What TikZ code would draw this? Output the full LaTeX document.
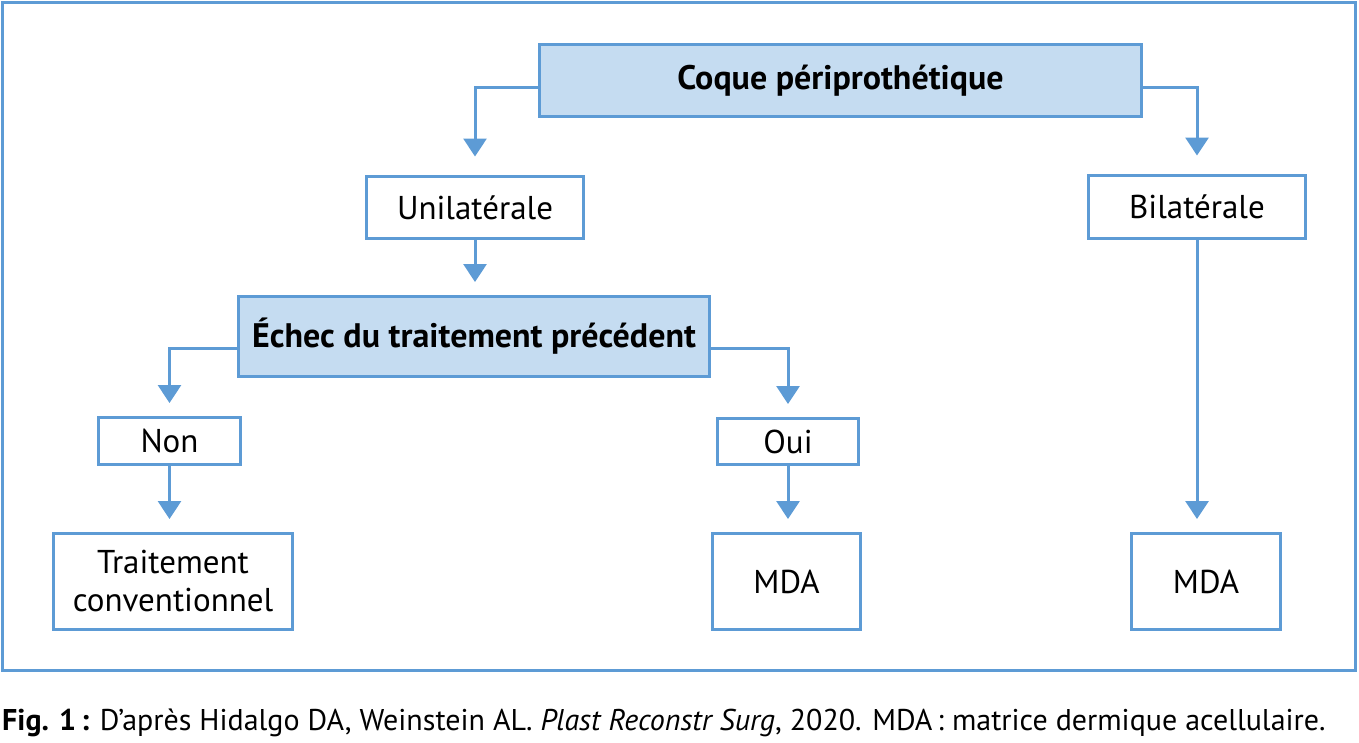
\documentclass[tikz,border=0pt]{standalone}
\usepackage{fontspec}
\setmainfont{PT Sans}
\usetikzlibrary{arrows.meta}
\definecolor{bordblue}{RGB}{93,155,213}
\definecolor{fillblue}{RGB}{197,220,241}
\begin{document}
\begin{tikzpicture}[x=1pt,y=-1pt,
  box/.style={draw=bordblue, line width=3pt, fill=white, inner sep=0pt, align=center,
    font=\fontsize{33}{38}\selectfont},
  keybox/.style={box, fill=fillblue, font=\fontsize{34}{38}\selectfont\bfseries},
  conn/.style={draw=bordblue, line width=3pt, -{Triangle[width=23pt,length=18pt]}},
  framebox/.style={draw=bordblue, line width=3pt, inner sep=0pt}]
\useasboundingbox (0,0) rectangle (1359,742);
\node[framebox, minimum width=1353.5pt, minimum height=668.5pt] (frame) at (678.75,336.25) {};

\node[keybox, minimum width=602pt, minimum height=72pt] (coque) at (840.5,80.5) {Coque périprothétique};
\node[box, minimum width=217pt, minimum height=62pt] (uni) at (475,207.5) {Unilatérale};
\node[box, minimum width=217pt, minimum height=63pt] (bil) at (1197,207) {Bilatérale};
\node[keybox, minimum width=471pt, minimum height=80pt] (echec) at (474,336.5) {Échec du traitement précédent};
\node[box, minimum width=142pt, minimum height=47pt] (non) at (169.5,441) {Non};
\node[box, minimum width=141pt, minimum height=46pt] (oui) at (788,441.5) {Oui};
\node[box, minimum width=239pt, minimum height=96pt] (trait) at (173,581.5) {Traitement\\conventionnel};
\node[box, minimum width=148pt, minimum height=96pt] (mdaa) at (786.5,581.5) {MDA};
\node[box, minimum width=149pt, minimum height=96pt] (mdab) at (1206,581.5) {MDA};

\draw[conn, shorten >=18.5pt] ([yshift=-6.5pt]coque.west) -| (uni.north);
\draw[conn, shorten >=18.5pt] ([yshift=-6.5pt]coque.east) -| (bil.north);
\draw[conn, shorten >=13pt] (uni.south) -- (uni.south |- echec.north);
\draw[conn, shorten >=13pt] ([yshift=-11.5pt]echec.west) -| (non.north);
\draw[conn, shorten >=13pt] ([yshift=-11.5pt]echec.east) -| (oui.north);
\draw[conn, shorten >=13pt] (non.south) -- (non.south |- trait.north);
\draw[conn, shorten >=13pt] (oui.south) -- (oui.south |- mdaa.north);
\draw[conn, shorten >=13pt] (bil.south) -- (bil.south |- mdab.north);

\node[anchor=base west, inner sep=0pt, font=\fontsize{30}{34}\selectfont] (cap) at (2,730)
  {\textbf{Fig. 1\,:} D’après Hidalgo DA, Weinstein AL. \textit{Plast Reconstr Surg}, 2020. MDA\,: matrice dermique acellulaire.};
\end{tikzpicture}
\end{document}
